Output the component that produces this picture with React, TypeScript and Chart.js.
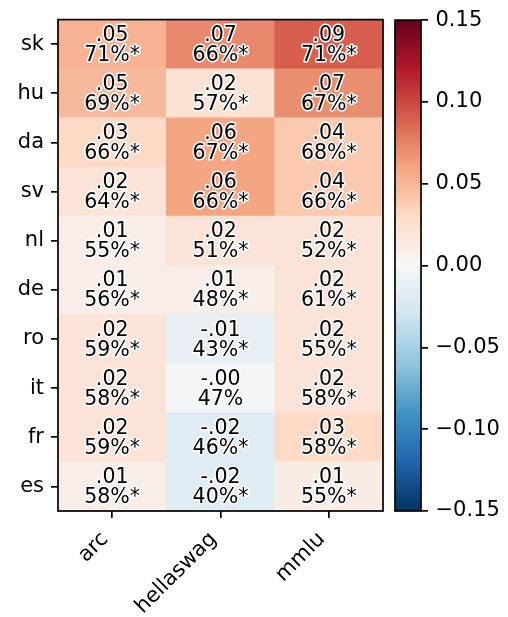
import React, { useEffect, useRef } from 'react';
import { Chart, registerables } from 'chart.js';
Chart.register(...registerables);

const languages = ['sk', 'hu', 'da', 'sv', 'nl', 'de', 'ro', 'it', 'fr', 'es'];
const tasks = ['arc', 'hellaswag', 'mmlu'];

const arcDelta = [0.053, 0.049, 0.03, 0.02, 0.01, 0.01, 0.02, 0.02, 0.02, 0.01];
const hellaswagDelta = [0.072, 0.023, 0.06, 0.06, 0.02, 0.01, -0.013, -0.003, -0.018, -0.018];
const mmluDelta = [0.09, 0.07, 0.04, 0.04, 0.02, 0.02, 0.02, 0.02, 0.03, 0.012];

const arcAcc = [71, 69, 66, 64, 55, 56, 59, 58, 59, 58];
const hellaswagAcc = [66, 57, 67, 66, 51, 48, 43, 47, 46, 40];
const mmluAcc = [71, 67, 68, 66, 52, 61, 55, 58, 58, 55];

const arcSig = [true, true, true, true, true, true, true, true, true, true];
const hellaswagSig = [true, true, true, true, true, true, true, false, true, true];
const mmluSig = [true, true, true, true, true, true, true, true, true, true];

const colorbarTicks = [0.15, 0.1, 0.05, 0.0, -0.05, -0.1, -0.15];
const vmin = -0.15;
const vmax = 0.15;

const deltas = [arcDelta, hellaswagDelta, mmluDelta];
const accs = [arcAcc, hellaswagAcc, mmluAcc];
const sigs = [arcSig, hellaswagSig, mmluSig];

const RDBU_R = [
  [5, 48, 97], [33, 102, 172], [67, 147, 195], [146, 197, 222], [209, 229, 240],
  [247, 247, 247], [253, 219, 199], [244, 165, 130], [214, 96, 77], [178, 24, 43], [103, 0, 31],
];

function cmapT(t: number): string {
  const tt = Math.max(0, Math.min(1, t));
  const s = tt * 10;
  const i = Math.min(Math.floor(s), 9);
  const f = s - i;
  const a = RDBU_R[i];
  const b = RDBU_R[i + 1];
  const c = a.map((v, k) => Math.round(v + (b[k] - v) * f));
  return `rgb(${c[0]},${c[1]},${c[2]})`;
}
function cmap(v: number): string {
  return cmapT((v - vmin) / (vmax - vmin));
}

function fmtDelta(v: number): string {
  return v.toFixed(2).replace('0.', '.');
}

const FONT = "'DejaVu Sans', sans-serif";
const W = 508;
const H = 617;
const LW = 1.7;
const TICK_FONT = 21;

export default function App() {
  const heatRef = useRef<HTMLCanvasElement>(null);
  const cbRef = useRef<HTMLCanvasElement>(null);

  useEffect(() => {
    const n = languages.length;
    const datasets = [];
    for (let k = n - 1; k >= 0; k--) {
      datasets.push({
        label: languages[k],
        data: tasks.map(() => 1),
        backgroundColor: tasks.map((_, j) => cmap(deltas[j][k])),
        borderWidth: 0,
        barPercentage: 1,
        categoryPercentage: 1,
        stack: 's',
      });
    }

    const framePlugin = {
      id: 'frame',
      afterDraw(chart: any) {
        const { ctx, chartArea } = chart;
        ctx.save();
        ctx.strokeStyle = '#000';
        ctx.lineWidth = LW;
        ctx.strokeRect(chartArea.left, chartArea.top, chartArea.right - chartArea.left, chartArea.bottom - chartArea.top);
        ctx.restore();
      },
    };

    const textPlugin = {
      id: 'cellText',
      afterDatasetsDraw(chart: any) {
        const { ctx, scales } = chart;
        ctx.save();
        ctx.font = `20.5px ${FONT}`;
        ctx.textAlign = 'center';
        ctx.textBaseline = 'alphabetic';
        ctx.lineJoin = 'round';
        for (let j = 0; j < tasks.length; j++) {
          for (let k = 0; k < n; k++) {
            const x = scales.x.getPixelForValue(j);
            const y = scales.y.getPixelForValue(n - 1 - k + 0.5);
            const l1 = fmtDelta(deltas[j][k]);
            const l2 = `${accs[j][k]}%${sigs[j][k] ? '*' : ''}`;
            [[l1, y - 3.5], [l2, y + 16.5]].forEach(([t, yy]: any) => {
              ctx.strokeStyle = '#fff';
              ctx.lineWidth = 3;
              ctx.strokeText(t, x, yy);
              ctx.fillStyle = '#000';
              ctx.fillText(t, x, yy);
            });
          }
        }
        ctx.restore();
      },
    };

    const heat = new Chart(heatRef.current!, {
      type: 'bar',
      data: { labels: tasks, datasets: datasets as any },
      options: {
        animation: false,
        responsive: false,
        devicePixelRatio: 1,
        layout: { padding: { top: 14, right: 7, left: 0, bottom: 0 } },
        plugins: { legend: { display: false }, tooltip: { enabled: false } },
        scales: {
          x: {
            type: 'category',
            stacked: true,
            border: { display: false },
            grid: { display: true, offset: false, drawOnChartArea: false, drawTicks: true, tickLength: 7, color: '#000', lineWidth: LW },
            ticks: { color: '#000', font: { family: FONT, size: TICK_FONT }, minRotation: 45, maxRotation: 45, padding: 9, labelOffset: -7, autoSkip: false },
            afterFit(scale: any) { scale.height = H - 511; },
          },
          y: {
            type: 'linear',
            stacked: true,
            min: 0,
            max: n,
            border: { display: false },
            grid: { display: true, drawOnChartArea: false, drawTicks: true, tickLength: 7, color: '#000', lineWidth: LW },
            ticks: {
              color: '#000',
              font: { family: FONT, size: TICK_FONT },
              padding: 7,
              autoSkip: false,
              callback: (v: any) => languages[n - 1 - Math.floor(Number(v))],
            },
            afterBuildTicks(scale: any) {
              scale.ticks = languages.map((_, i) => ({ value: i + 0.5 }));
            },
            afterFit(scale: any) { scale.width = 58; },
          },
        },
      } as any,
      plugins: [textPlugin, framePlugin],
    });

    const cb = new Chart(cbRef.current!, {
      type: 'bar',
      data: {
        labels: ['cb'],
        datasets: [
          {
            data: [[vmin, vmax]] as any,
            borderWidth: 0,
            barPercentage: 1,
            categoryPercentage: 1,
            backgroundColor: (c: any) => {
              const chart = c.chart;
              const { ctx, chartArea, scales } = chart;
              if (!chartArea || !scales.y) return cmap(0);
              const y0 = scales.y.getPixelForValue(vmin);
              const y1 = scales.y.getPixelForValue(vmax);
              const g = ctx.createLinearGradient(0, y0, 0, y1);
              for (let i = 0; i < RDBU_R.length; i++) {
                g.addColorStop(i / (RDBU_R.length - 1), cmapT(i / (RDBU_R.length - 1)));
              }
              return g;
            },
          },
        ],
      },
      options: {
        animation: false,
        responsive: false,
        devicePixelRatio: 1,
        layout: { padding: { top: 14, right: 0, left: 395, bottom: H - 511 } },
        plugins: { legend: { display: false }, tooltip: { enabled: false } },
        scales: {
          x: { display: false },
          y: {
            type: 'linear',
            position: 'right',
            min: vmin,
            max: vmax,
            border: { display: false },
            grid: { display: true, drawOnChartArea: false, drawTicks: true, tickLength: 7, color: '#000', lineWidth: LW },
            ticks: {
              color: '#000',
              font: { family: FONT, size: TICK_FONT },
              padding: 7.5,
              autoSkip: false,
              callback: (v: any) => {
                const s = Math.abs(Number(v)).toFixed(2);
                return Number(v) < -1e-9 ? '\u2212' + s : s;
              },
            },
            afterBuildTicks(scale: any) {
              scale.ticks = colorbarTicks.map((v) => ({ value: v }));
            },
            afterFit(scale: any) { scale.width = W - 421; },
          },
        },
      } as any,
      plugins: [framePlugin],
    });

    return () => {
      heat.destroy();
      cb.destroy();
    };
  }, []);

  return (
    <div style={{ position: 'absolute', left: 0, top: 0, width: W, height: H, background: '#fff' }}>
      <canvas ref={heatRef} width={390} height={H} style={{ position: 'absolute', left: 0, top: 0, width: 390, height: H }} />
      <canvas ref={cbRef} width={W} height={H} style={{ position: 'absolute', left: 0, top: 0, width: W, height: H, pointerEvents: 'none' }} />
    </div>
  );
}
